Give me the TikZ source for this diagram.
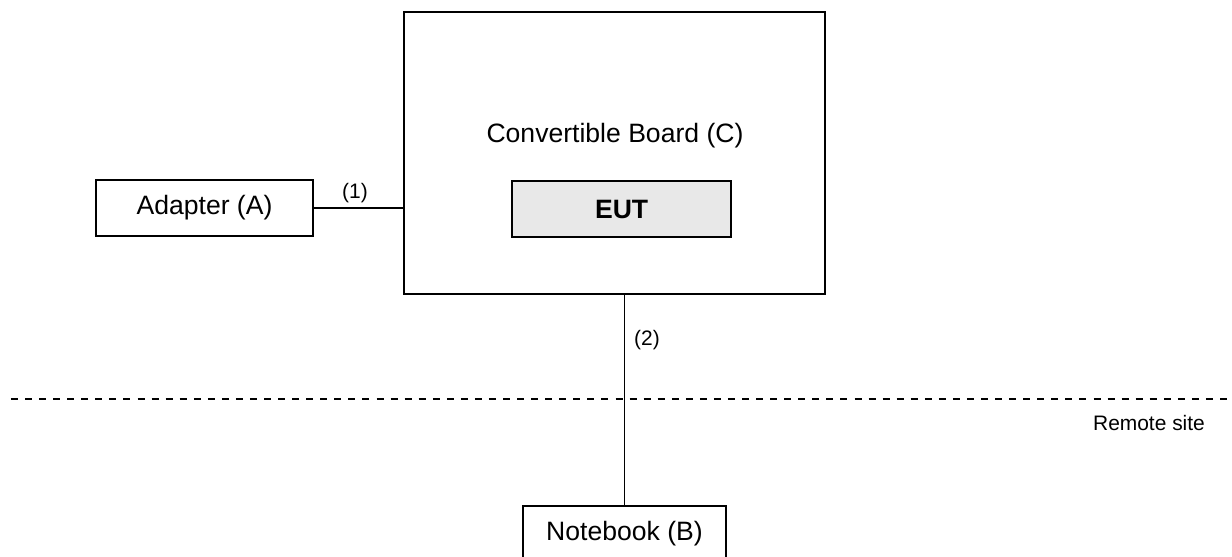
\documentclass[tikz,border=0pt]{standalone}
\usepackage{fontspec}
\setmainfont{Liberation Sans}
\usetikzlibrary{positioning}
\definecolor{eutgray}{RGB}{232,232,232}

\begin{document}
\begin{tikzpicture}[line width=1.35pt, inner sep=0pt,
      font=\fontsize{18.9}{22}\selectfont,
      block/.style={rectangle, draw, minimum height=1.4cm},
      tag/.style={font=\fontsize{14.9}{18}\selectfont}]
      \useasboundingbox (0,0) rectangle (30.8,13.9);
      % board, EUT
      \node[block, minimum width=10.525cm, minimum height=7.05cm] (board) at(15.3625,10.075) {};
      \node (board_t) at(15.375,10.5) {Convertible Board (C)};
      \node[block, fill=eutgray, minimum width=5.475cm] (eut) at(15.54,8.675) {\bfseries EUT};
      % adapter, link (1)
      \node[block, minimum width=5.425cm] (adapter) at(5.1125,8.7) {Adapter (A)};
      \path (adapter.east) edge (board.west |- adapter.east);
      \node[tag] (l_1) at(8.875,9.075) {(1)};
      % notebook, link (2)
      \node[block, minimum width=5.075cm] (notebook) at(15.6125,0.55) {Notebook (B)};
      \path (notebook.north) edge (notebook.north |- board.south);
      \node[tag] (l_2) at(16.175,5.4) {(2)};
      % remote site;
      \coordinate (r_w) at(0.275,3.925);
      \coordinate (r_e) at(30.8,3.925);
      \path (r_w) edge[dash pattern=on 5pt off 5pt] (r_e);
      \node[tag] (remote) at(28.725,3.325) {Remote site};
\end{tikzpicture}
\end{document}
